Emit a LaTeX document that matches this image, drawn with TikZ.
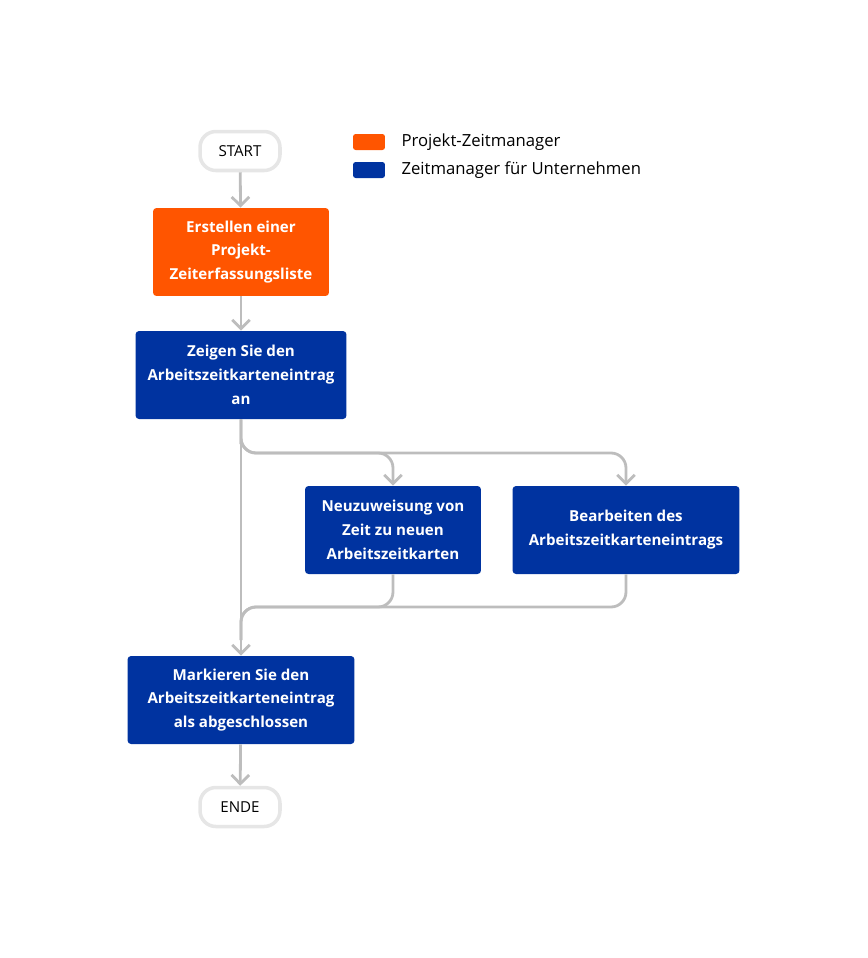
\documentclass[tikz,border=0pt]{standalone}
\usepackage{fontspec}
\setmainfont{Open Sans}
\usetikzlibrary{arrows.meta,positioning}
\definecolor{orangeBox}{HTML}{FF5500}
\definecolor{blueBox}{HTML}{0033A0}
\definecolor{lineGray}{HTML}{BDBDBD}
\definecolor{termGray}{HTML}{E6E6E6}
\begin{document}
\begin{tikzpicture}[x=0.02cm,y=-0.02cm,
                    stepND/.style={rectangle,
                                   rounded corners=2pt,
                                   text=white,
                                   font=\fontsize{8.6}{13.6}\selectfont\bfseries,
                                   align=center,
                                   minimum height=1.76cm},
                    termND/.style={rectangle,
                                   rounded corners=9pt,
                                   draw=termGray,
                                   line width=2pt,
                                   fill=white,
                                   font=\fontsize{8.6}{11}\selectfont,
                                   minimum width=1.6cm,
                                   minimum height=0.78cm},
                    keyND/.style={rectangle,
                                  rounded corners=1.5pt,
                                  minimum width=0.64cm,
                                  minimum height=0.32cm},
                    flow/.style={draw=lineGray,
                                 line width=1.6pt,
                                 rounded corners=0.3cm,
                                 -{Straight Barb[length=5pt,width=10pt]}},
                    mergeline/.style={draw=lineGray,
                                      line width=1.6pt,
                                      rounded corners=0.3cm}]
    \useasboundingbox (0,0) rectangle (868,958);
    % terminals and steps
    \node[termND](start) at (240,151) {START};
    \node[stepND,fill=orangeBox,minimum width=3.52cm](create) at (241,252)
        {Erstellen einer\\Projekt-\\Zeiterfassungsliste};
    \node[stepND,fill=blueBox,minimum width=4.22cm](show) at (241,375)
        {Zeigen Sie den\\Arbeitszeitkarteneintrag\\an};
    \node[stepND,fill=blueBox,minimum width=3.52cm](reassign) at (393,530)
        {Neuzuweisung von\\Zeit zu neuen\\Arbeitszeitkarten};
    \node[stepND,fill=blueBox,minimum width=4.54cm](edit) at (626,530)
        {Bearbeiten des\\Arbeitszeitkarteneintrags};
    \node[stepND,fill=blueBox,minimum width=4.54cm](mark) at (241,700)
        {Markieren Sie den\\Arbeitszeitkarteneintrag\\als abgeschlossen};
    \node[termND](stop) at (240,807) {ENDE};
    % legend
    \node[keyND,fill=orangeBox](keyA) at (369,142) {};
    \node[keyND,fill=blueBox](keyB) at (369,170) {};
    \node[right=0.2cm of keyA,font=\fontsize{9.5}{11}\selectfont](keyAtxt) {Projekt-Zeitmanager};
    \node[right=0.2cm of keyB,font=\fontsize{9.5}{11}\selectfont](keyBtxt) {Zeitmanager für Unternehmen};
    % helper points
    \coordinate (fork) at (241,453);
    \coordinate (merge) at (241,607);
    % connectors
    \draw[flow] (start) -- (create);
    \draw[flow] (create) -- (show);
    \draw[flow] (show) -- (mark);
    \draw[flow] (show.south) |- (fork) -| (reassign.north);
    \draw[flow] (show.south) |- (fork) -| (edit.north);
    \draw[mergeline] (reassign.south) |- (merge) -- (241,640);
    \draw[mergeline] (edit.south) |- (merge) -- (241,640);
    \draw[flow] (mark) -- (stop);
\end{tikzpicture}
\end{document}
